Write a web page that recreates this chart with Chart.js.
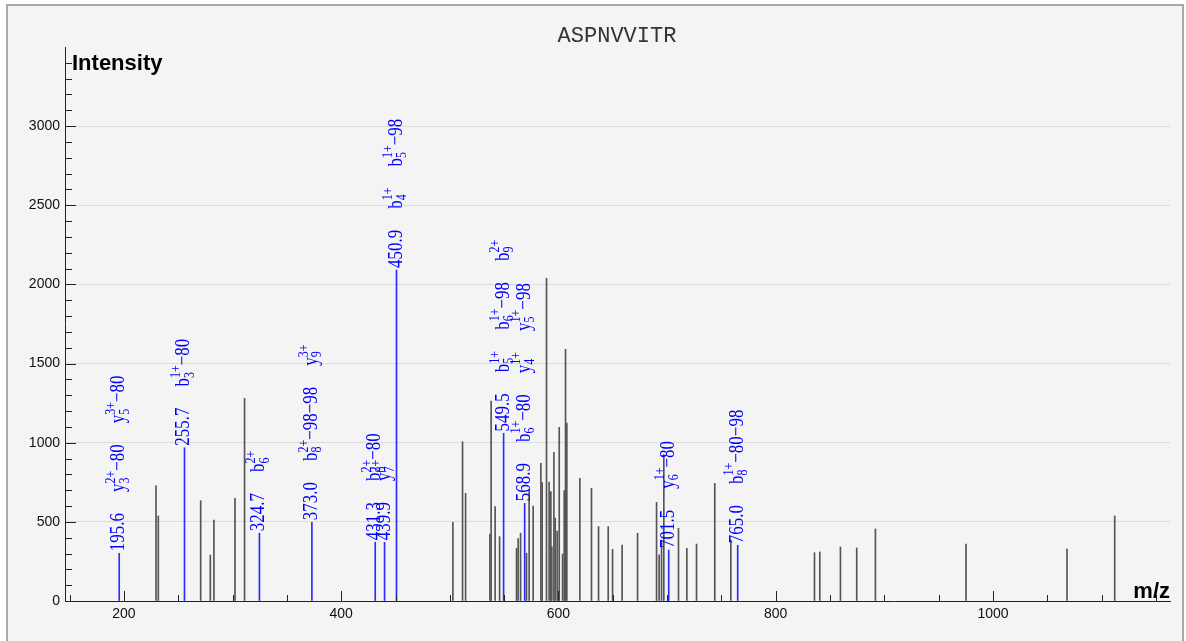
<!DOCTYPE html>
<html lang="en">
  <head>
    <meta charset="UTF-8" />
    <title>ASPNVVITR</title>
    <style>
      html, body { margin: 0; overflow: hidden; background: #fff; }
      .frame {
        position: absolute; left: 6px; top: 4px; width: 1174px; height: 660px;
        border: 2px solid #a9a9a9; background: #f4f4f4;
      }
      .wrap { position: absolute; left: 0; top: 0; width: 1186px; height: 641px; }
    </style>
  </head>
  <body>
    <div class="frame"></div>
    <div class="wrap"><canvas id="spectrum"></canvas></div>

    <script src="https://cdn.jsdelivr.net/npm/chart.js@4.4.0/dist/chart.umd.min.js"></script>

    <!-- spectrum data -->
    <script>
      const peptide = "ASPNVVITR";

      // unmatched peaks (m/z, intensity)
      const peakMz = [229.5, 231.6, 270.6, 279.5, 282.8, 302.2, 311.0, 502.8, 511.7, 514.5,
        536.9, 538.0, 541.7, 545.8, 561.4, 562.9, 565.1, 570.6, 573.0, 576.7,
        583.8, 585.0, 589.0, 591.4, 593.0, 593.9, 595.8, 597.0, 598.8, 600.7,
        603.8, 605.3, 606.5, 607.7, 619.7, 630.4, 636.9, 645.8, 649.8, 658.6,
        672.8, 690.3, 692.7, 694.9, 697.0, 710.5, 718.2, 727.1, 743.9, 758.7,
        835.7, 840.6, 859.6, 874.6, 891.8, 975.2, 1068.2, 1112.1];
      const peakInt = [728, 537, 634, 290, 512, 649, 1280, 497, 1006, 680,
        423, 1263, 596, 406, 333, 394, 428, 301, 706, 600,
        870, 748, 2039, 752, 691, 343, 939, 524, 442, 1097,
        297, 697, 1590, 1124, 775, 712, 470, 470, 326, 354,
        428, 623, 291, 385, 925, 459, 333, 360, 743, 385,
        305, 310, 341, 335, 455, 360, 328, 537];

      // matched (annotated) peaks
      const matchMz = [195.6, 255.7, 324.7, 373.0, 431.3, 439.9, 450.9, 549.5, 568.9, 701.5, 765.0];
      const matchInt = [301, 968, 428, 497, 371, 371, 2091, 1059, 617, 322, 352];
      // ion_sub^charge + loss
      const matchIons = [
        ["y_3^2+−80", "y_5^3+−80"],
        ["b_3^1+−80"],
        ["b_6^2+"],
        ["b_8^2+−98−98", "y_9^3+"],
        ["b_8^2+−80"],
        ["y_7^2+"],
        ["b_4^1+", "b_5^1+−98"],
        ["b_5^1+", "b_6^1+−98", "b_9^2+"],
        ["b_6^1+−80", "y_4^1+", "y_5^1+−98"],
        ["y_6^1+−80"],
        ["b_8^1+−80−98"]
      ];

      const xTicks = [150, 200, 250, 300, 350, 400, 450, 500, 550, 600, 650, 700, 750,
        800, 850, 900, 950, 1000, 1050, 1100, 1150];
      const yMax = 3500;
    </script>

    <script>
      const labelFont = '17px "Liberation Serif"';
      const smallFont = '12px "Liberation Serif"';

      // draw one label along the rotated baseline, returns its length
      function drawItem(ctx, pos, text) {
        const m = text.match(/^([a-z])_(\d+)\^(\d\+)(.*)$/);
        ctx.font = labelFont;
        if (!m) {
          ctx.fillText(text, pos, 4);
          return ctx.measureText(text).width;
        }
        ctx.fillText(m[1], pos, 4);
        let w = ctx.measureText(m[1]).width;
        ctx.font = smallFont;
        ctx.fillText(m[3], pos + w, -3.5);
        ctx.fillText(m[2], pos + w, 7.5);
        w += Math.max(ctx.measureText(m[3]).width, ctx.measureText(m[2]).width);
        ctx.font = labelFont;
        ctx.fillText(m[4], pos + w, 4);
        return w + ctx.measureText(m[4]).width;
      }

      const decor = {
        id: "decor",
        afterDraw(chart) {
          const { ctx, chartArea: a, scales: { x, y } } = chart;
          ctx.save();

          // inner tick marks
          ctx.strokeStyle = "#222";
          ctx.lineWidth = 1;
          ctx.beginPath();
          for (let v = 0; v < yMax; v += 100) {
            const py = Math.round(y.getPixelForValue(v)) + 0.5;
            ctx.moveTo(a.left, py);
            ctx.lineTo(a.left + (v % 500 === 0 ? 11 : 7), py);
          }
          xTicks.forEach(v => {
            const px = Math.round(x.getPixelForValue(v)) + 0.5;
            ctx.moveTo(px, a.bottom);
            ctx.lineTo(px, a.bottom - (v % 200 === 0 ? 10 : 6));
          });
          ctx.stroke();

          // titles
          ctx.fillStyle = "#333";
          ctx.font = '22px "Liberation Mono"';
          ctx.textAlign = "center";
          ctx.fillText(peptide, 617, 42);
          ctx.fillStyle = "#000";
          ctx.font = 'bold 22px "Liberation Sans"';
          ctx.textAlign = "left";
          ctx.fillText("Intensity", a.left + 7, 70);
          ctx.textAlign = "right";
          ctx.fillText("m/z", a.right, a.bottom - 3);

          // peak annotations
          ctx.fillStyle = "#0000ff";
          ctx.textAlign = "left";
          ctx.textBaseline = "alphabetic";
          matchMz.forEach((mz, i) => {
            const px = x.getPixelForValue(mz);
            const top = y.getPixelForValue(matchInt[i]);
            ctx.save();
            ctx.translate(px, top - 2);
            ctx.rotate(-Math.PI / 2);
            ctx.scale(1, 1.25);
            let pos = 0;
            [mz.toFixed(1)].concat(matchIons[i]).forEach(t => {
              pos += drawItem(ctx, pos, t) + 21;
            });
            ctx.restore();
          });

          ctx.restore();
        }
      };

      const tickFont = { family: "Liberation Sans", size: 14 };

      new Chart(document.getElementById("spectrum"), {
        type: "bar",
        data: {
          datasets: [
            {
              data: peakMz.map((m, i) => ({ x: m, y: peakInt[i] })),
              backgroundColor: "#555555",
              barThickness: 1,
              grouped: false
            },
            {
              data: matchMz.map((m, i) => ({ x: m, y: matchInt[i] })),
              backgroundColor: "#2b2bff",
              barThickness: 1,
              grouped: false
            }
          ]
        },
        options: {
          responsive: true,
          maintainAspectRatio: false,
          animation: false,
          layout: { padding: { left: 0, top: 47, right: 16, bottom: 0 } },
          plugins: { legend: { display: false }, tooltip: { enabled: false } },
          scales: {
            x: {
              type: "linear",
              min: 145.7,
              max: 1163,
              offset: false,
              afterBuildTicks: s => { s.ticks = xTicks.map(v => ({ value: v })); },
              afterFit: s => { s.height = 40; },
              grid: { display: false, drawTicks: false, offset: false },
              border: { color: "#222", width: 1 },
              ticks: {
                autoSkip: false,
                maxRotation: 0,
                padding: 5,
                color: "#111",
                font: tickFont,
                callback: v => (v % 200 === 0 ? v : "")
              }
            },
            y: {
              min: 0,
              max: yMax,
              afterFit: s => { s.width = 65; },
              grid: {
                drawTicks: false,
                color: c => (c.tick && (c.tick.value === 0 || c.tick.value === yMax) ? "rgba(0,0,0,0)" : "#dcdcdc")
              },
              border: { color: "#222", width: 1 },
              ticks: {
                stepSize: 500,
                padding: 5,
                color: "#111",
                font: tickFont,
                callback: v => (v <= 3000 ? v : "")
              }
            }
          }
        },
        plugins: [decor]
      });
    </script>
  </body>
</html>
